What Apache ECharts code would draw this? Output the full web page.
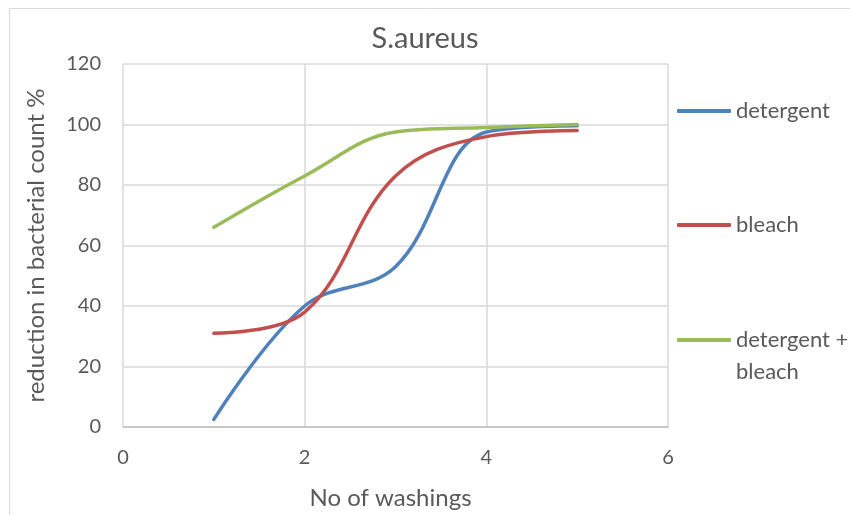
<!DOCTYPE html>
<html>
<head>
<meta charset="utf-8">
<script src="https://cdn.jsdelivr.net/npm/echarts@6/dist/echarts.min.js"></script>
<style>
  html, body { margin: 0; padding: 0; background: #fff; }
  #chart { width: 850px; height: 515px; }
</style>
</head>
<body>
<div id="chart"></div>
<script>
// washings
const washings = [1, 2, 3, 4, 5];
// reduction in bacterial count %
const detergent = [2.5, 40, 53, 97.5, 99.6];
const bleach = [31, 38, 83, 96, 98];
const detergentBleach = [66, 83, 97.5, 99, 100];

const seriesNames = ['detergent', 'bleach', 'detergent + bleach'];
const seriesColors = ['#4F81BD', '#C0504D', '#9BBB59'];
const seriesData = [detergent, bleach, detergentBleach];

const textColor = '#595959';
const font = 'Lato';

const chart = echarts.init(document.getElementById('chart'));

const legendBase = {
  orient: 'vertical',
  left: 677,
  padding: 0,
  icon: 'roundRect',
  itemWidth: 54,
  itemHeight: 4,
  itemStyle: { borderWidth: 0 },
  textStyle: { color: textColor, fontSize: 22, fontFamily: font, lineHeight: 32 }
};

const option = {
  animation: false,
  title: {
    text: 'S.aureus',
    left: 'center',
    top: 19,
    textStyle: { color: textColor, fontSize: 29, fontWeight: 'normal', fontFamily: font }
  },
  graphic: [{
    type: 'rect',
    shape: { x: 9.5, y: 8.5, width: 900, height: 600 },
    style: { fill: 'none', stroke: '#d9d9d9', lineWidth: 1 },
    silent: true
  }],
  legend: [
    Object.assign({}, legendBase, { top: 95, data: ['detergent'] }),
    Object.assign({}, legendBase, { top: 209, data: ['bleach'] }),
    Object.assign({}, legendBase, {
      top: 292,
      data: ['detergent + bleach'],
      // blank first line keeps the icon level with "detergent +"
      formatter: () => ' \ndetergent +\nbleach'
    })
  ],
  grid: { left: 123, right: 182, top: 64, bottom: 87 },
  xAxis: {
    type: 'value',
    min: 0,
    max: 6,
    interval: 2,
    name: 'No of washings',
    nameLocation: 'middle',
    nameGap: 59,
    nameTextStyle: { color: textColor, fontSize: 24, fontFamily: font, padding: [0, 10, 0, 0] },
    axisLine: { lineStyle: { color: '#bfbfbf', width: 1.5 } },
    axisTick: { show: false },
    axisLabel: { color: textColor, fontSize: 20, fontFamily: font, margin: 21 },
    splitLine: { lineStyle: { color: '#d9d9d9', width: 1.5 } }
  },
  yAxis: {
    type: 'value',
    min: 0,
    max: 120,
    interval: 20,
    name: 'reduction in bacterial count %',
    nameLocation: 'middle',
    nameGap: 75,
    nameTextStyle: { color: textColor, fontSize: 24, fontFamily: font },
    axisLine: { show: false },
    axisTick: { show: false },
    axisLabel: { color: textColor, fontSize: 20, fontFamily: font, margin: 22 },
    splitLine: { lineStyle: { color: '#d9d9d9', width: 1.5 } }
  },
  series: seriesNames.map((name, i) => ({
    name: name,
    type: 'line',
    smooth: 0.38,
    symbol: 'none',
    data: washings.map((x, j) => [x, seriesData[i][j]]),
    lineStyle: { color: seriesColors[i], width: 3.5, cap: 'round' },
    itemStyle: { color: seriesColors[i] }
  }))
};

chart.setOption(option);
</script>
</body>
</html>
